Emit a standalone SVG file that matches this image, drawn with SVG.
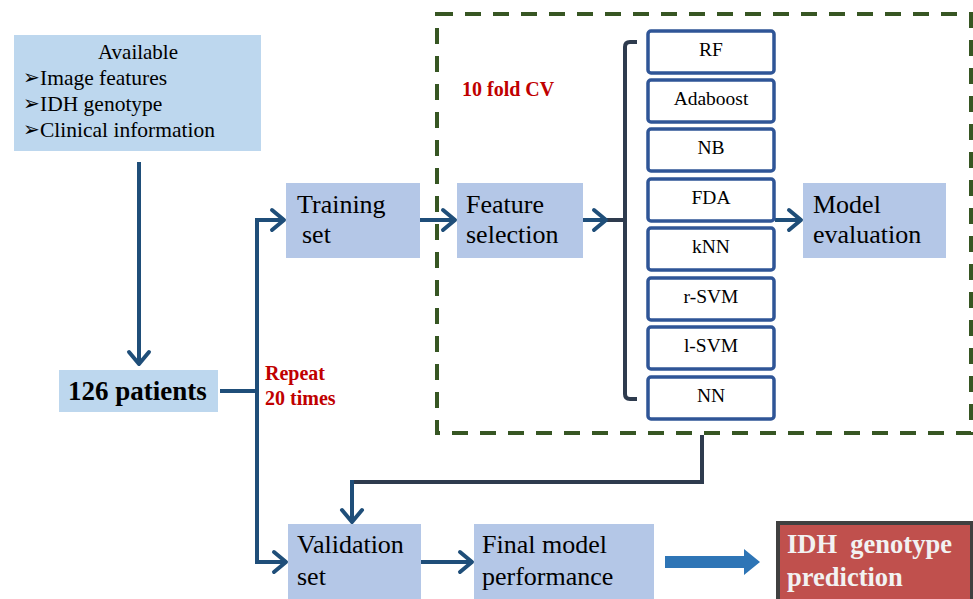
<svg xmlns="http://www.w3.org/2000/svg" width="973" height="599" viewBox="0 0 973 599">
<style>
.t{font-family:"Liberation Serif","Times New Roman",serif;fill:#000}
.b1{fill:#BDD7EE}
.b2{fill:#B4C7E7}
.cls{fill:#FFFFFF;stroke:#2F5597;stroke-width:3.5}
.cl{font-family:"Liberation Serif","Times New Roman",serif;font-size:19.5px;text-anchor:middle;fill:#000}
.big{font-size:26px}
.red{font-family:"Liberation Serif","Times New Roman",serif;font-weight:bold;fill:#C00000}
.con{fill:none;stroke:#1F4E79;stroke-width:4}
.dk{fill:none;stroke:#2E3B4E;stroke-width:4}
.bul{font-family:"DejaVu Sans",sans-serif;font-size:20px;fill:#000}
</style>
<defs>
<marker id="ah" markerUnits="userSpaceOnUse" markerWidth="18" markerHeight="26" viewBox="0 0 18 26" refX="15" refY="13" orient="auto">
<path d="M3,3 L15,13 L3,23" fill="none" stroke="#1F4E79" stroke-width="4" stroke-linecap="round" stroke-linejoin="round"/>
</marker>
</defs>

<rect x="437" y="14" width="534" height="419" fill="none" stroke="#375623" stroke-width="4" stroke-dasharray="16,12"/>

<g id="connectors">
<path class="con" d="M139,162 V364" marker-end="url(#ah)"/>
<path class="con" d="M220,391 H257"/>
<path class="con" d="M257,391 V220 H284" marker-end="url(#ah)"/>
<path class="con" d="M257,391 V562 H286" marker-end="url(#ah)"/>
<path class="con" d="M420,220 H455" marker-end="url(#ah)"/>
<path class="dk" d="M606,220 H625"/>
<path class="con" d="M583,220 H606" marker-end="url(#ah)"/>
<path class="dk" d="M637,42 H630 Q625,42 625,47 V394 Q625,399 630,399 H637"/>
<path class="con" d="M775,220 H801" marker-end="url(#ah)"/>
<path class="dk" d="M702,435 V482 H352"/>
<path class="con" d="M352,480 V522" marker-end="url(#ah)"/>
<path class="con" d="M421,562 H472" marker-end="url(#ah)"/>
<polygon points="665,556 744,556 744,549 760,562 744,575 744,568 665,568" fill="#2E75B6"/>
</g>

<g id="available">
<rect class="b1" x="14" y="35" width="247" height="116"/>
<text class="t" x="138" y="59" font-size="21" text-anchor="middle">Available</text>
<text class="bul" x="23" y="84">➢</text>
<text class="t" x="40" y="85" font-size="21.5">Image features</text>
<text class="bul" x="23" y="110">➢</text>
<text class="t" x="40" y="111" font-size="21.5">IDH genotype</text>
<text class="bul" x="23" y="136">➢</text>
<text class="t" x="40" y="137" font-size="21.5">Clinical information</text>
</g>

<g id="patients">
<rect class="b1" x="59" y="370" width="159" height="42"/>
<text class="t" x="68" y="400" font-size="27" font-weight="bold">126 patients</text>
</g>

<g id="repeat">
<text class="red" x="265" y="380" font-size="20">Repeat</text>
<text class="red" x="265" y="405" font-size="20">20 times</text>
</g>

<g id="cv">
<text class="red" x="462" y="96" font-size="20">10 fold CV</text>
</g>

<g id="training">
<rect class="b2" x="286" y="183" width="134" height="75"/>
<text class="t big" x="297" y="213">Training</text>
<text class="t big" x="302" y="243">set</text>
</g>

<g id="feature">
<rect class="b2" x="457" y="183" width="126" height="75"/>
<text class="t big" x="466" y="213">Feature</text>
<text class="t big" x="466" y="243">selection</text>
</g>

<g id="classifiers">
<rect class="cls" x="648" y="31" width="126" height="42" rx="3"/>
<text class="cl" x="711" y="56">RF</text>
<rect class="cls" x="648" y="80" width="126" height="42" rx="3"/>
<text class="cl" x="711" y="105">Adaboost</text>
<rect class="cls" x="648" y="129" width="126" height="42" rx="3"/>
<text class="cl" x="711" y="154">NB</text>
<rect class="cls" x="648" y="179" width="126" height="42" rx="3"/>
<text class="cl" x="711" y="204">FDA</text>
<rect class="cls" x="648" y="228" width="126" height="42" rx="3"/>
<text class="cl" x="711" y="253">kNN</text>
<rect class="cls" x="648" y="278" width="126" height="42" rx="3"/>
<text class="cl" x="711" y="303">r-SVM</text>
<rect class="cls" x="648" y="327" width="126" height="42" rx="3"/>
<text class="cl" x="711" y="352">l-SVM</text>
<rect class="cls" x="648" y="377" width="126" height="42" rx="3"/>
<text class="cl" x="711" y="402">NN</text>
</g>

<g id="evaluation">
<rect class="b2" x="803" y="183" width="143" height="75"/>
<text class="t big" x="813" y="213">Model</text>
<text class="t big" x="813" y="243">evaluation</text>
</g>

<g id="validation">
<rect class="b2" x="288" y="524" width="133" height="75"/>
<text class="t big" x="297" y="553">Validation</text>
<text class="t big" x="297" y="585">set</text>
</g>

<g id="final">
<rect class="b2" x="474" y="524" width="180" height="75"/>
<text class="t big" x="482" y="553">Final model</text>
<text class="t big" x="482" y="585">performance</text>
</g>

<g id="idh">
<rect x="778" y="523" width="194" height="78" fill="#C0504D" stroke="#404040" stroke-width="4"/>
<text x="787" y="553" font-size="26.5" font-weight="bold" fill="#F2F2F2" font-family="Liberation Serif,Times New Roman,serif" xml:space="preserve">IDH  genotype</text>
<text x="787" y="586" font-size="26.5" font-weight="bold" fill="#F2F2F2" font-family="Liberation Serif,Times New Roman,serif">prediction</text>
</g>
</svg>
